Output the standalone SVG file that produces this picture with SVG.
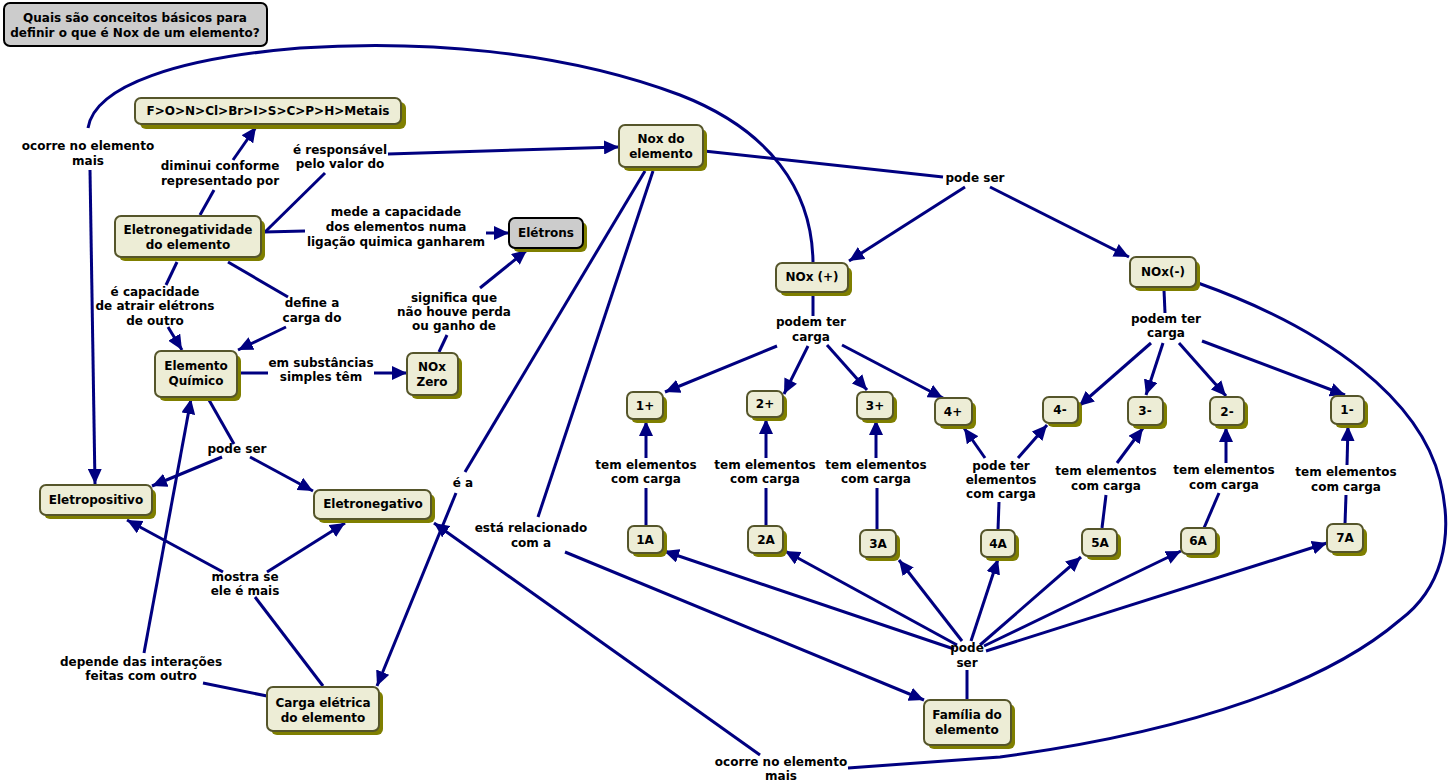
<svg xmlns="http://www.w3.org/2000/svg" width="1450" height="783" viewBox="0 0 1450 783">
<style>
text{font-family:"DejaVu Sans",Verdana,sans-serif;font-weight:bold;font-size:12px;fill:#000;text-anchor:middle}
.sh{fill:#7f7f00}
.nd{fill:#ededd6;stroke:#55552a;stroke-width:2}
.gr{fill:#cccccc;stroke:#000;stroke-width:2}
.c path,.c line{fill:none;stroke:#000080;stroke-width:3}
.a{marker-end:url(#ah)}
</style>
<defs>
<marker id="ah" markerUnits="userSpaceOnUse" markerWidth="16" markerHeight="14" refX="15" refY="7" orient="auto">
<path d="M0,0 L15,7 L0,14 z" fill="#000080"/>
</marker>
</defs>
<rect width="1450" height="783" fill="#fff"/>

<g class="c" id="connectors">
<!-- Eletronegatividade -> F>O>N -->
<line x1="200" y1="215" x2="214" y2="190"/>
<line class="a" x1="233" y1="160" x2="256" y2="127"/>
<!-- é responsável -->
<line x1="265" y1="232" x2="325" y2="173"/>
<line class="a" x1="388" y1="154" x2="619" y2="147"/>
<!-- mede a capacidade -->
<line x1="264" y1="232" x2="305" y2="231"/>
<line class="a" x1="486" y1="233" x2="509" y2="233"/>
<!-- é capacidade -->
<line x1="177" y1="262" x2="166" y2="285"/>
<line class="a" x1="168" y1="327" x2="182" y2="350"/>
<!-- define a -->
<line x1="228" y1="262" x2="288" y2="297"/>
<line class="a" x1="286" y1="327" x2="238" y2="350"/>
<!-- em substâncias -->
<line x1="239" y1="373" x2="268" y2="373"/>
<line class="a" x1="374" y1="373" x2="407" y2="373"/>
<!-- significa que -->
<line x1="439" y1="352" x2="447" y2="335"/>
<line class="a" x1="480" y1="288" x2="527" y2="250"/>
<!-- pode ser (Elemento Químico) -->
<line x1="209" y1="400" x2="234" y2="444"/>
<line class="a" x1="222" y1="457" x2="152" y2="486"/>
<line class="a" x1="250" y1="457" x2="313" y2="491"/>
<!-- mostra se -->
<line x1="323" y1="686" x2="255" y2="597"/>
<line class="a" x1="223" y1="572" x2="127" y2="520"/>
<line class="a" x1="267" y1="572" x2="345" y2="523"/>
<!-- depende das interações -->
<line x1="267" y1="696" x2="203" y2="683"/>
<line class="a" x1="144" y1="653" x2="191" y2="399"/>
<!-- é a -->
<line x1="645" y1="171" x2="465" y2="472"/>
<line class="a" x1="456" y1="493" x2="377" y2="686"/>
<!-- está relacionado -->
<line x1="653" y1="171" x2="538" y2="517"/>
<line class="a" x1="565" y1="552" x2="924" y2="700"/>
<!-- pode ser (Nox) -->
<line x1="704" y1="151" x2="943" y2="177"/>
<line class="a" x1="965" y1="187" x2="849" y2="261"/>
<line class="a" x1="990" y1="187" x2="1129" y2="257"/>
<!-- podem ter carga (+) -->
<line x1="813" y1="293" x2="813" y2="316"/>
<line class="a" x1="777" y1="346" x2="665" y2="392"/>
<line class="a" x1="808" y1="346" x2="784" y2="394"/>
<line class="a" x1="827" y1="345" x2="867" y2="390"/>
<line class="a" x1="842" y1="345" x2="943" y2="398"/>
<!-- podem ter carga (-) -->
<line x1="1164" y1="290" x2="1165" y2="313"/>
<line class="a" x1="1151" y1="343" x2="1079" y2="406"/>
<line class="a" x1="1163" y1="343" x2="1146" y2="395"/>
<line class="a" x1="1179" y1="343" x2="1226" y2="396"/>
<line class="a" x1="1202" y1="341" x2="1345" y2="395"/>
<!-- A -> cargas -->
<line x1="646" y1="526" x2="646" y2="488"/>
<line class="a" x1="646" y1="458" x2="646" y2="421"/>
<line x1="766" y1="526" x2="766" y2="488"/>
<line class="a" x1="766" y1="458" x2="766" y2="419"/>
<line x1="877" y1="530" x2="877" y2="488"/>
<line class="a" x1="876" y1="458" x2="876" y2="420"/>
<line x1="998" y1="530" x2="999" y2="502"/>
<line class="a" x1="985" y1="458" x2="964" y2="428"/>
<line class="a" x1="1018" y1="458" x2="1047" y2="425"/>
<line x1="1102" y1="528" x2="1106" y2="495"/>
<line class="a" x1="1117" y1="463" x2="1143" y2="428"/>
<line x1="1204" y1="528" x2="1219" y2="493"/>
<line class="a" x1="1226" y1="463" x2="1226" y2="427"/>
<line x1="1345" y1="524" x2="1346" y2="495"/>
<line class="a" x1="1347" y1="465" x2="1348" y2="426"/>
<!-- Família pode ser -->
<line x1="967" y1="700" x2="967" y2="670"/>
<line class="a" x1="954" y1="649" x2="664" y2="551"/>
<line class="a" x1="957" y1="645" x2="785" y2="551"/>
<line class="a" x1="962" y1="641" x2="899" y2="560"/>
<line class="a" x1="971" y1="641" x2="998" y2="559"/>
<line class="a" x1="980" y1="645" x2="1081" y2="557"/>
<line class="a" x1="984" y1="646" x2="1181" y2="551"/>
<line class="a" x1="986" y1="651" x2="1327" y2="543"/>
<!-- ocorre no elemento mais (top) -->
<path d="M813,262 C812,190 770,130 680,95 C560,50 420,40 300,48 C180,58 95,85 88,128"/>
<line class="a" x1="90" y1="170" x2="95" y2="484"/>
<!-- ocorre no elemento mais (bottom) -->
<path d="M1198,283 C1330,330 1420,400 1440,480 C1455,540 1440,590 1400,620 C1330,680 1200,730 1000,757 L848,768"/>
<line class="a" x1="760" y1="755" x2="434" y2="523"/>
</g>

<g id="title">
<rect class="gr" x="4" y="3" width="263" height="43" rx="6"/>
<text x="135" y="22">Quais são conceitos básicos para</text>
<text x="135" y="37">definir o que é Nox de um elemento?</text>
</g>

<g id="n-ordem">
<rect class="sh" x="140" y="102" width="266" height="27" rx="6"/>
<rect class="nd" x="135" y="98" width="266" height="26" rx="6"/>
<text x="268" y="115">F&gt;O&gt;N&gt;Cl&gt;Br&gt;I&gt;S&gt;C&gt;P&gt;H&gt;Metais</text>
</g>

<g id="n-nox">
<rect class="sh" x="623" y="129" width="84" height="42" rx="6"/>
<rect class="nd" x="619" y="125" width="84" height="42" rx="6"/>
<text x="661" y="143">Nox do</text>
<text x="661" y="158">elemento</text>
</g>

<g id="n-eletroneg">
<rect class="sh" x="119" y="220" width="146" height="41" rx="6"/>
<rect class="nd" x="115" y="216" width="146" height="41" rx="6"/>
<text x="188" y="234">Eletronegatividade</text>
<text x="188" y="249">do elemento</text>
</g>

<g id="n-eletrons">
<rect class="sh" x="513" y="222" width="74" height="30" rx="6"/>
<rect class="gr" x="509" y="218" width="74" height="30" rx="6"/>
<text x="546" y="237">Elétrons</text>
</g>

<g id="n-noxpos">
<rect class="sh" x="780" y="267" width="72" height="29" rx="6"/>
<rect class="nd" x="776" y="263" width="72" height="29" rx="6"/>
<text x="812" y="281">NOx (+)</text>
</g>

<g id="n-noxneg">
<rect class="sh" x="1134" y="261" width="66" height="30" rx="6"/>
<rect class="nd" x="1130" y="257" width="66" height="30" rx="6"/>
<text x="1163" y="276">NOx(-)</text>
</g>

<g id="n-elemento">
<rect class="sh" x="159" y="355" width="82" height="46" rx="6"/>
<rect class="nd" x="155" y="351" width="82" height="46" rx="6"/>
<text x="196" y="370">Elemento</text>
<text x="196" y="385">Químico</text>
</g>

<g id="n-noxzero">
<rect class="sh" x="411" y="357" width="51" height="42" rx="6"/>
<rect class="nd" x="407" y="353" width="51" height="42" rx="6"/>
<text x="432" y="371">NOx</text>
<text x="432" y="386">Zero</text>
</g>

<g id="n-1p">
<rect class="sh" x="631" y="396" width="36" height="27" rx="6"/>
<rect class="nd" x="627" y="392" width="36" height="27" rx="6"/>
<text x="645" y="410">1+</text>
</g>
<g id="n-2p">
<rect class="sh" x="751" y="395" width="36" height="26" rx="6"/>
<rect class="nd" x="747" y="391" width="36" height="26" rx="6"/>
<text x="765" y="408">2+</text>
</g>
<g id="n-3p">
<rect class="sh" x="861" y="396" width="36" height="27" rx="6"/>
<rect class="nd" x="857" y="392" width="36" height="27" rx="6"/>
<text x="875" y="410">3+</text>
</g>
<g id="n-4p">
<rect class="sh" x="939" y="402" width="37" height="27" rx="6"/>
<rect class="nd" x="935" y="398" width="37" height="27" rx="6"/>
<text x="953" y="416">4+</text>
</g>
<g id="n-4m">
<rect class="sh" x="1047" y="401" width="35" height="26" rx="6"/>
<rect class="nd" x="1043" y="397" width="35" height="26" rx="6"/>
<text x="1060" y="414">4-</text>
</g>
<g id="n-3m">
<rect class="sh" x="1132" y="401" width="35" height="28" rx="6"/>
<rect class="nd" x="1128" y="397" width="35" height="28" rx="6"/>
<text x="1145" y="415">3-</text>
</g>
<g id="n-2m">
<rect class="sh" x="1214" y="401" width="34" height="28" rx="6"/>
<rect class="nd" x="1210" y="397" width="34" height="28" rx="6"/>
<text x="1227" y="416">2-</text>
</g>
<g id="n-1m">
<rect class="sh" x="1335" y="400" width="33" height="28" rx="6"/>
<rect class="nd" x="1331" y="396" width="33" height="28" rx="6"/>
<text x="1347" y="414">1-</text>
</g>

<g id="n-eletropositivo">
<rect class="sh" x="44" y="489" width="112" height="30" rx="6"/>
<rect class="nd" x="40" y="485" width="112" height="30" rx="6"/>
<text x="96" y="504">Eletropositivo</text>
</g>
<g id="n-eletronegativo">
<rect class="sh" x="318" y="494" width="117" height="29" rx="6"/>
<rect class="nd" x="314" y="490" width="117" height="29" rx="6"/>
<text x="373" y="508">Eletronegativo</text>
</g>

<g id="n-1a">
<rect class="sh" x="632" y="530" width="35" height="27" rx="6"/>
<rect class="nd" x="628" y="526" width="35" height="27" rx="6"/>
<text x="645" y="544">1A</text>
</g>
<g id="n-2a">
<rect class="sh" x="752" y="530" width="35" height="27" rx="6"/>
<rect class="nd" x="748" y="526" width="35" height="27" rx="6"/>
<text x="766" y="544">2A</text>
</g>
<g id="n-3a">
<rect class="sh" x="864" y="534" width="36" height="27" rx="6"/>
<rect class="nd" x="860" y="530" width="36" height="27" rx="6"/>
<text x="878" y="548">3A</text>
</g>
<g id="n-4a">
<rect class="sh" x="985" y="534" width="34" height="27" rx="6"/>
<rect class="nd" x="981" y="530" width="34" height="27" rx="6"/>
<text x="998" y="548">4A</text>
</g>
<g id="n-5a">
<rect class="sh" x="1086" y="533" width="35" height="27" rx="6"/>
<rect class="nd" x="1082" y="529" width="35" height="27" rx="6"/>
<text x="1100" y="547">5A</text>
</g>
<g id="n-6a">
<rect class="sh" x="1185" y="532" width="35" height="26" rx="6"/>
<rect class="nd" x="1181" y="528" width="35" height="26" rx="6"/>
<text x="1198" y="545">6A</text>
</g>
<g id="n-7a">
<rect class="sh" x="1331" y="528" width="36" height="28" rx="6"/>
<rect class="nd" x="1327" y="524" width="36" height="28" rx="6"/>
<text x="1345" y="542">7A</text>
</g>

<g id="n-carga">
<rect class="sh" x="271" y="691" width="112" height="44" rx="6"/>
<rect class="nd" x="267" y="687" width="112" height="44" rx="6"/>
<text x="323" y="707">Carga elétrica</text>
<text x="323" y="722">do elemento</text>
</g>

<g id="n-familia">
<rect class="sh" x="928" y="704" width="87" height="45" rx="6"/>
<rect class="nd" x="924" y="700" width="87" height="45" rx="6"/>
<text x="967" y="719">Família do</text>
<text x="967" y="734">elemento</text>
</g>

<g id="labels">
<text x="88" y="150">ocorre no elemento</text>
<text x="88" y="165">mais</text>
<text x="220" y="170">diminui conforme</text>
<text x="220" y="185">representado por</text>
<text x="340" y="154">é responsável</text>
<text x="340" y="168">pelo valor do</text>
<text x="396" y="216">mede a capacidade</text>
<text x="396" y="231">dos elementos numa</text>
<text x="396" y="246">ligação quimica ganharem</text>
<text x="155" y="296">é capacidade</text>
<text x="155" y="310">de atrair elétrons</text>
<text x="155" y="325">de outro</text>
<text x="312" y="307">define a</text>
<text x="312" y="322">carga do</text>
<text x="321" y="367">em substâncias</text>
<text x="321" y="381">simples têm</text>
<text x="454" y="302">significa que</text>
<text x="454" y="316">não houve perda</text>
<text x="454" y="330">ou ganho de</text>
<text x="237" y="453">pode ser</text>
<text x="245" y="581">mostra se</text>
<text x="245" y="595">ele é mais</text>
<text x="141" y="666">depende das interações</text>
<text x="141" y="680">feitas com outro</text>
<text x="463" y="487">é a</text>
<text x="531" y="532">está relacionado</text>
<text x="531" y="547">com a</text>
<text x="975" y="182">pode ser</text>
<text x="811" y="326">podem ter</text>
<text x="811" y="341">carga</text>
<text x="1166" y="323">podem ter</text>
<text x="1166" y="337">carga</text>
<text x="646" y="469">tem elementos</text>
<text x="646" y="483">com carga</text>
<text x="765" y="469">tem elementos</text>
<text x="765" y="483">com carga</text>
<text x="876" y="469">tem elementos</text>
<text x="876" y="483">com carga</text>
<text x="1001" y="470">pode ter</text>
<text x="1001" y="484">elementos</text>
<text x="1001" y="498">com carga</text>
<text x="1106" y="475">tem elementos</text>
<text x="1106" y="490">com carga</text>
<text x="1224" y="474">tem elementos</text>
<text x="1224" y="489">com carga</text>
<text x="1346" y="476">tem elementos</text>
<text x="1346" y="491">com carga</text>
<text x="967" y="652">pode</text>
<text x="967" y="667">ser</text>
<text x="781" y="766">ocorre no elemento</text>
<text x="781" y="780">mais</text>
</g>
</svg>
